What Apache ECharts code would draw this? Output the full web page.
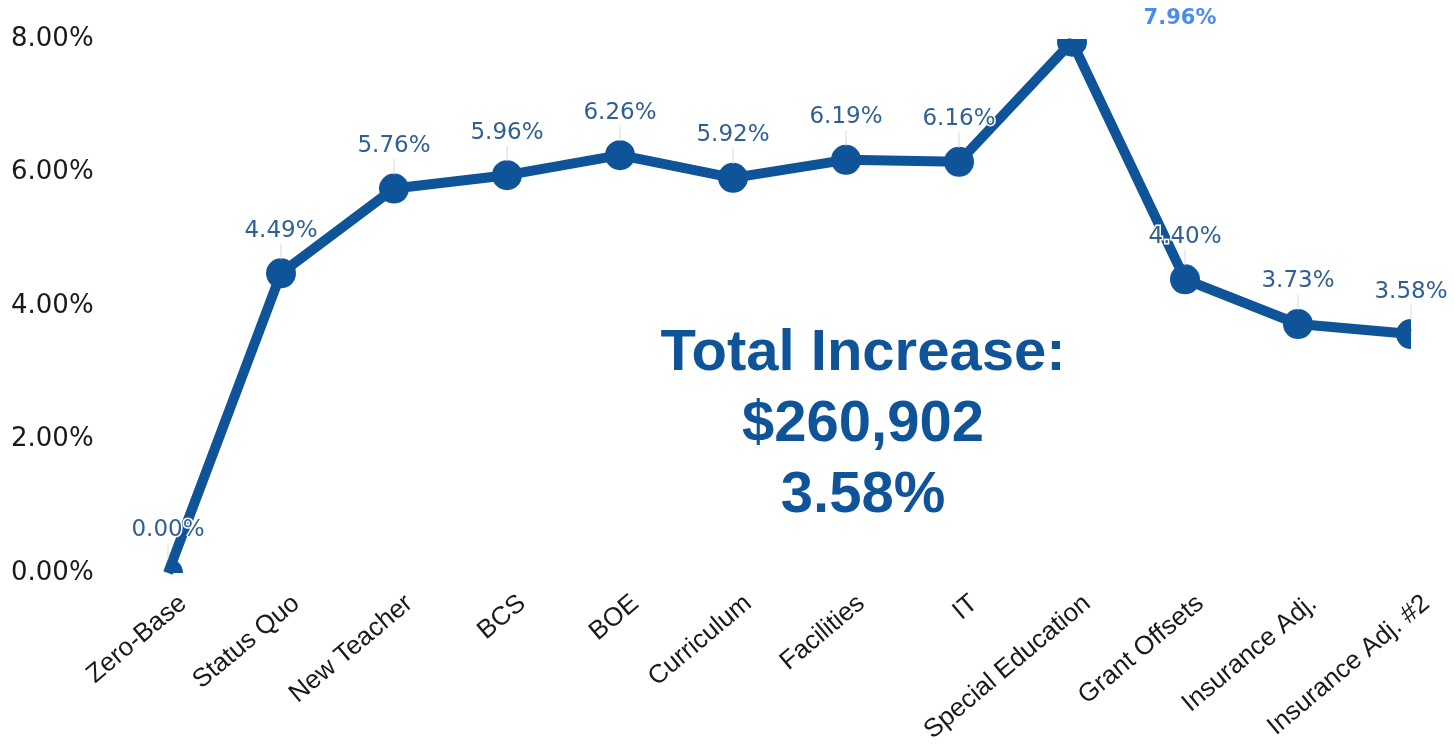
<!DOCTYPE html>
<html>
<head>
<meta charset="utf-8">
<script src="https://cdn.jsdelivr.net/npm/echarts@6/dist/echarts.min.js"></script>
<style>
  html, body { margin: 0; padding: 0; background: #fff; }
  #chart { width: 1454px; height: 753px; }
</style>
</head>
<body>
<div id="chart"></div>
<script>
const categories = ['Zero-Base', 'Status Quo', 'New Teacher', 'BCS', 'BOE', 'Curriculum', 'Facilities', 'IT', 'Special Education', 'Grant Offsets', 'Insurance Adj.', 'Insurance Adj. #2'];
const values = [0.00, 4.49, 5.76, 5.96, 6.26, 5.92, 6.19, 6.16, 7.96, 4.40, 3.73, 3.58];
const yTicks = [0, 2, 4, 6, 8];
const highlightIndex = 8;
const summaryLines = ['Total Increase:', '$260,902', '3.58%'];

const mainColor = '#0f5499';
const labelColor = '#2f5f93';

const chart = echarts.init(document.getElementById('chart'));

const lineData = values.map((v, i) => {
  if (i === highlightIndex) {
    return {
      value: v,
      label: { color: '#4a8cf0', fontWeight: 'bold', fontSize: 21, fontFamily: 'DejaVu Sans, sans-serif' },
      labelLine: { show: false }
    };
  }
  return v;
});

chart.setOption({
  animation: false,
  grid: { left: 168, right: 43, top: 39, bottom: 180 },
  xAxis: {
    type: 'category',
    data: categories,
    boundaryGap: false,
    axisLine: { show: false },
    axisTick: { show: false },
    axisLabel: {
      rotate: 40,
      margin: 40,
      color: '#1a1a1a',
      fontSize: 26,
      padding: [0, -20, 0, 0],
      fontFamily: 'Liberation Sans, Arial, sans-serif'
    }
  },
  yAxis: {
    type: 'value',
    min: yTicks[0],
    max: yTicks[yTicks.length - 1],
    interval: 2,
    splitLine: { show: false },
    axisLine: { show: false },
    axisTick: { show: false },
    axisLabel: {
      align: 'left',
      margin: 157,
      color: '#1a1a1a',
      fontSize: 26,
      fontFamily: 'DejaVu Sans, sans-serif',
      formatter: v => v.toFixed(2) + '%'
    }
  },
  series: [
    {
      type: 'custom',
      z: 1,
      clip: true,
      data: values.map((v, i) => [i, v]),
      renderItem: (params, api) => {
        const p = api.coord([api.value(0), api.value(1)]);
        return {
          type: 'circle',
          shape: { cx: p[0], cy: p[1], r: 15 },
          style: { fill: mainColor }
        };
      }
    },
    {
      type: 'line',
      z: 2,
      data: lineData,
      clip: true,
      symbol: 'circle',
      symbolSize: 28,
      itemStyle: { color: 'rgba(0,0,0,0)' },
      lineStyle: { color: mainColor, width: 10 },
      label: {
        show: true,
        position: 'top',
        distance: 4,
        color: labelColor,
        fontSize: 23,
        fontFamily: 'DejaVu Sans, sans-serif',
        textBorderColor: '#fff',
        textBorderWidth: 3,
        formatter: p => p.value.toFixed(2) + '%'
      },
      labelLine: {
        show: true,
        lineStyle: { color: '#d8d8d8', width: 1 }
      },
      labelLayout: params => {
        if (params.dataIndex === highlightIndex) {
          return { dx: 108, dy: 5 };
        }
        return { dy: -13 };
      }
    }
  ],
  graphic: [
    {
      type: 'text',
      left: 863 - 210,
      top: 318,
      style: {
        text: summaryLines.join('\n'),
        font: 'bold 58px "Liberation Sans", Arial, sans-serif',
        fill: mainColor,
        textAlign: 'center',
        lineHeight: 71,
        width: 420
      }
    }
  ]
});
</script>
</body>
</html>
